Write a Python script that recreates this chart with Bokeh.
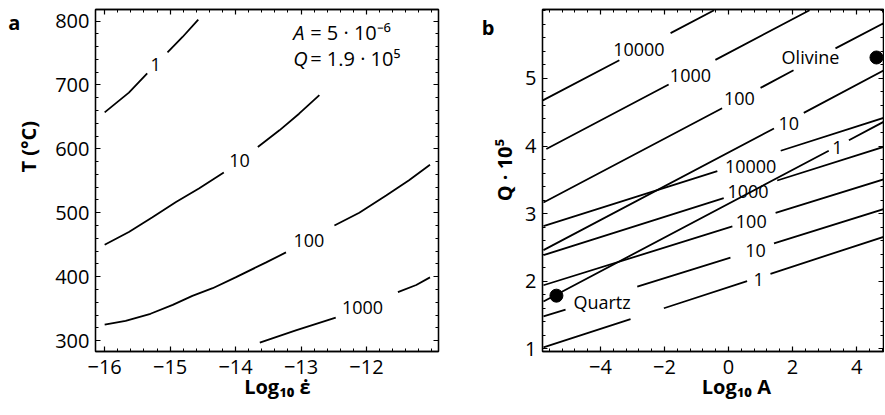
import numpy as np
from bokeh.plotting import figure
from bokeh.layouts import row
from bokeh.models import LinearAxis, FixedTicker, ColumnDataSource, Range1d, Label
from bokeh.core.properties import value
from bokeh.embed import file_html
from bokeh.resources import INLINE

nan = float("nan")
FONT = "Open Sans"
NB = "\u00a0"

# ---------------- panel a : contours of T vs log10 strain rate ----------------
a_c1_x = [-16.0, -15.63, -15.35, nan, -15.04, -14.81, -14.57]
a_c1_y = [657, 688, 718, nan, 751, 775, 802]

a_c10_x = [-16.0, -15.63, -15.27, -14.91, -14.56, -14.18, nan, -13.66, -13.33, -13.03, -12.72]
a_c10_y = [450, 470, 493, 517, 538, 563, nan, 603, 629, 655, 684]

a_c100_x = [-16.0, -15.68, -15.30, -14.96, -14.66, -14.35, -14.0, -13.54, -13.23, nan,
            -12.49, -12.11, -11.70, -11.35, -11.03]
a_c100_y = [325, 331, 342, 356, 370, 382, 399, 422, 438, nan, 480, 500, 527, 551, 575]

a_c1000_x = [-13.63, -13.08, -12.47, nan, -11.52, -11.24, -11.03]
a_c1000_y = [297, 316, 336, nan, 376, 387, 399]

a_label_text = ["1", "10", "100", "1000"]
a_label_x = [-15.22, -13.94, -12.88, -12.06]
a_label_y = [732, 582, 457, 352]

a_xticks = [-16, -15, -14, -13, -12]
a_yticks = [300, 400, 500, 600, 700, 800]

# ---------------- panel b : Q vs log10 A ----------------
b_steep_text = ["10000", "1000", "100", "10", "1"]
b_steep_x = [
    [-5.80, -3.41, nan, -1.81, -0.45],
    [-5.69, -1.87, nan, -0.41, 2.53],
    [-5.78, -0.20, nan, 1.00, 2.03, nan, 3.34, 4.93],
    [-5.78, 1.42, nan, 2.35, 4.93],
    [-5.78, 3.13, nan, 3.76, 4.93],
]
b_steep_y = [
    [4.675, 5.27, nan, 5.67, 6.01],
    [3.955, 4.91, nan, 5.275, 6.01],
    [3.165, 4.56, nan, 4.86, 5.12, nan, 5.445, 5.84],
    [2.46, 4.26, nan, 4.49, 5.14],
    [1.70, 3.93, nan, 4.085, 4.38],
]
b_steep_lx = [-2.80, -1.19, 0.34, 1.88, 3.40]
b_steep_ly = [5.43, 5.04, 4.71, 4.34, 3.98]

b_shallow_text = ["10000", "1000", "100", "10", "1"]
b_shallow_x = [
    [-5.78, -0.35, nan, 1.63, 4.93],
    [-5.78, -0.15, nan, 1.52, 4.93],
    [-5.78, 0.12, nan, 1.47, 4.93],
    [-5.78, -5.09, nan, -2.85, 0.06, nan, 1.42, 4.93],
    [-5.78, -3.06, nan, -2.02, 0.58, nan, 1.31, 4.93],
]
b_shallow_y = [
    [2.815, 3.63, nan, 3.93, 4.43],
    [2.385, 3.23, nan, 3.49, 4.00],
    [1.94, 2.81, nan, 3.01, 3.52],
    [1.48, 1.58, nan, 1.92, 2.35, nan, 2.56, 3.08],
    [1.02, 1.44, nan, 1.60, 2.00, nan, 2.11, 2.67],
]
b_shallow_lx = [0.69, 0.61, 0.71, 0.84, 0.94]
b_shallow_ly = [3.70, 3.33, 2.88, 2.46, 2.03]

b_mineral_name = ["Quartz", "Olivine"]
b_mineral_x = [-5.375, 4.62]
b_mineral_y = [1.786, 5.31]
b_name_x = [-3.95, 2.56]
b_name_y = [1.69, 5.31]

b_xticks = [-4, -2, 0, 2, 4]
b_yticks = [1, 2, 3, 4, 5]

HEIGHT = 414


def style_axis(ax, show):
    ax.axis_line_color = "black"
    ax.axis_line_width = 1.3
    ax.major_tick_in = 5
    ax.major_tick_out = 0
    ax.minor_tick_in = 3
    ax.minor_tick_out = 0
    ax.major_tick_line_color = "black"
    ax.minor_tick_line_color = "black"
    ax.major_tick_line_width = 1.2
    ax.minor_tick_line_width = 1.0
    ax.major_label_text_font = FONT
    if show:
        ax.major_label_text_color = "black"
        ax.major_label_text_font_size = "20px"
    else:
        ax.major_label_text_color = None
        ax.major_label_text_font_size = "1px"
        ax.major_label_standoff = 0
    ax.axis_label_text_font = FONT
    ax.axis_label_text_font_size = "20px"
    ax.axis_label_text_font_style = "bold"
    ax.axis_label_text_color = "black"


def make_fig(xr, yr, width, left, right, top, xt, xminor, yt, yminor, xlabel, ylabel, ystand):
    p = figure(width=width, height=HEIGHT, x_range=Range1d(*xr), y_range=Range1d(*yr),
               output_backend="svg", toolbar_location=None,
               x_axis_type=None, y_axis_type=None,
               min_border_left=left, min_border_right=right,
               min_border_top=top, min_border_bottom=HEIGHT - 351)
    p.background_fill_color = "white"
    p.border_fill_color = "white"
    p.outline_line_color = "black"
    p.outline_line_width = 1.3
    xtick = FixedTicker(ticks=xt, minor_ticks=xminor)
    ytick = FixedTicker(ticks=yt, minor_ticks=yminor)
    bx = LinearAxis(ticker=xtick, axis_label=xlabel)
    ly = LinearAxis(ticker=ytick, axis_label=ylabel)
    tx = LinearAxis(ticker=xtick)
    ry = LinearAxis(ticker=ytick)
    style_axis(bx, True)
    style_axis(ly, True)
    style_axis(tx, False)
    style_axis(ry, False)
    bx.major_label_standoff = 8
    bx.axis_label_standoff = -4
    ly.major_label_standoff = 6
    ly.axis_label_standoff = ystand
    p.add_layout(bx, "below")
    p.add_layout(ly, "left")
    p.add_layout(tx, "above")
    p.add_layout(ry, "right")
    return p


# ---------- panel a ----------
pa = make_fig((-16.14, -10.9), (283, 818), 468, 95, 30, 9,
              a_xticks, list(np.round(np.arange(-16.2, -10.79, 0.2), 2)),
              a_yticks, list(range(280, 821, 20)),
              NB * 4 + "Log₁₀ ε̇", NB * 13 + "T (°C)", 10)

for cx, cy in [(a_c1_x, a_c1_y), (a_c10_x, a_c10_y), (a_c100_x, a_c100_y), (a_c1000_x, a_c1000_y)]:
    pa.line(cx, cy, line_color="black", line_width=1.8)

pa.text(x="x", y="y", text="t",
        source=ColumnDataSource(dict(x=a_label_x, y=a_label_y, t=a_label_text)),
        text_font=value(FONT), text_font_size="18px", text_color="black",
        text_align="center", text_baseline="middle")

ann = dict(text_font=FONT, text_color="black", text_baseline="middle", text_align="left",
           text_font_size="20px")
pa.add_layout(Label(x=-13.12, y=782.5, text="A", text_font_style="italic", **ann))
pa.add_layout(Label(x=-13.12, y=782.5, x_offset=17,
                    text="=" + NB + "5" + NB + "·" + NB + "10⁻⁶", **ann))
pa.add_layout(Label(x=-13.12, y=740.8, text="Q", text_font_style="italic", **ann))
pa.add_layout(Label(x=-13.12, y=740.8, x_offset=17,
                    text="=" + NB + "1.9" + NB + "·" + NB + "10⁵", **ann))

pa.add_layout(Label(x=-17.38, y=798, text="a", text_font=FONT, text_font_size="20px",
                    text_font_style="bold", text_align="center", text_baseline="alphabetic",
                    text_color="black"), "left")

# ---------- panel b ----------
pb = make_fig((-5.81, 4.84), (0.96, 6.02), 416, 74, 1, 4,
              b_xticks, list(np.round(np.arange(-6.0, 5.0, 0.4), 2)),
              b_yticks, list(np.round(np.arange(1.0, 6.01, 0.2), 2)),
              NB * 9 + "Log₁₀ A", NB * 4 + "Q · 10⁵", 4)

for xs, ys in zip(b_steep_x + b_shallow_x, b_steep_y + b_shallow_y):
    pb.line(xs, ys, line_color="black", line_width=1.8)

pb.text(x="x", y="y", text="t",
        source=ColumnDataSource(dict(x=b_steep_lx + b_shallow_lx, y=b_steep_ly + b_shallow_ly,
                                     t=b_steep_text + b_shallow_text)),
        text_font=value(FONT), text_font_size="18px", text_color="black",
        text_align="center", text_baseline="middle")

pb.scatter(b_mineral_x, b_mineral_y, size=13, color="black")
pb.text(x="x", y="y", text="t",
        source=ColumnDataSource(dict(x=b_name_x, y=b_name_y, t=b_mineral_name)),
        text_font=value(FONT), text_font_size="18px", text_color="black",
        text_align="center", text_baseline="middle")

pb.add_layout(Label(x=-7.51, y=5.76, text="b", text_font=FONT, text_font_size="20px",
                    text_font_style="bold", text_align="center", text_baseline="alphabetic",
                    text_color="black"), "left")

layout = row(pa, pb)
open("out.html", "w").write(file_html(layout, INLINE))
